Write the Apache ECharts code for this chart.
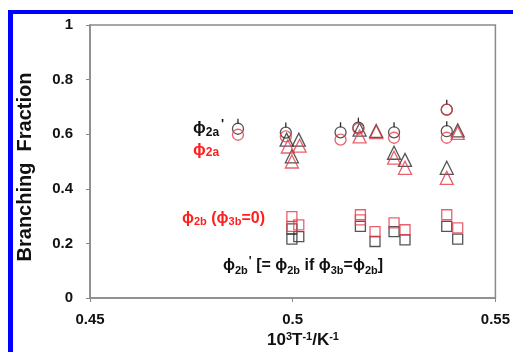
<!DOCTYPE html>
<html><head><meta charset="utf-8">
<script src="https://cdn.jsdelivr.net/npm/echarts@6/dist/echarts.min.js"></script>
<style>html,body{margin:0;padding:0;background:#fff}#c{width:513px;height:352px}</style>
</head><body><div id="c"></div>
<script>
// phi2a' (black circles) and phi2a (red circles)
const circBlack = [[0.4865,0.62],[0.4983,0.606],[0.5118,0.607],[0.5162,0.624],[0.5250,0.607],[0.5380,0.611],[0.5380,0.69]];
const circRed   = [[0.4865,0.598],[0.4983,0.592],[0.5118,0.58],[0.5162,0.62],[0.5250,0.587],[0.5380,0.587],[0.5380,0.69]];
// triangles
const triBlack = [[0.4985,0.58],[0.4998,0.519],[0.5015,0.58],[0.5165,0.617],[0.5206,0.612],[0.5250,0.532],[0.5277,0.506],[0.5380,0.477],[0.5407,0.614]];
const triRed   = [[0.4988,0.555],[0.4998,0.50],[0.5017,0.558],[0.5165,0.592],[0.5206,0.608],[0.5250,0.514],[0.5277,0.477],[0.5380,0.44],[0.5407,0.605]];
// phi2b (red squares) and phi2b' (black squares)
const sqRed   = [[0.4998,0.298],[0.4998,0.262],[0.5015,0.268],[0.5167,0.305],[0.5167,0.286],[0.5203,0.243],[0.5250,0.275],[0.5277,0.25],[0.5380,0.305],[0.5407,0.257]];
const sqBlack = [[0.4998,0.253],[0.4998,0.216],[0.5015,0.225],[0.5167,0.262],[0.5203,0.207],[0.5250,0.243],[0.5277,0.213],[0.5380,0.262],[0.5407,0.216]];
const xTicks = [0.45, 0.5, 0.55];
const yTicks = [0, 0.2, 0.4, 0.6, 0.8, 1];

const RED = '#e23a48', BLK = '#2a2a2a', TRED = '#ff1f1f';
const chart = echarts.init(document.getElementById('c'));
const font = '"Liberation Sans", Arial, sans-serif';
function sc(name, data, symbol, color, size, z) {
  return {type:'scatter', name, data, symbol, symbolSize:size, z:z||2,
    itemStyle:{color:'rgba(0,0,0,0)', borderColor:color, borderWidth:1.3}};
}
const sub = {fontSize:11, fontWeight:'bold', fontFamily:font, verticalAlign:'bottom', padding:[6,0,0,0]};
chart.setOption({
  animation:false,
  grid:{left:90, top:25, right:15, bottom:54, show:true, borderColor:'#8a8a8a', borderWidth:1.5},
  xAxis:{type:'value', min:xTicks[0], max:xTicks[2], interval:0.05,
    axisLine:{lineStyle:{color:'#8a8a8a', width:1.5}}, axisTick:{show:true, length:4, lineStyle:{color:'#8a8a8a'}},
    splitLine:{show:false},
    axisLabel:{color:'#111', fontSize:15, fontWeight:'bold', fontFamily:font, margin:14,
      formatter:v=>String(+v.toFixed(2))}},
  yAxis:{type:'value', min:yTicks[0], max:yTicks[5], interval:0.2,
    axisLine:{show:true, lineStyle:{color:'#8a8a8a', width:1.5}}, axisTick:{show:true, length:4, lineStyle:{color:'#8a8a8a'}},
    splitLine:{show:false},
    axisLabel:{color:'#111', fontSize:15, fontWeight:'bold', fontFamily:font, margin:17,
      formatter:v=>String(+v.toFixed(1))}},
  series:[
    {type:'custom', data:circBlack, z:1, renderItem:(p,api)=>{
      const c = api.coord([api.value(0), api.value(1)]);
      return {type:'line', shape:{x1:c[0], y1:c[1]-5, x2:c[0], y2:c[1]-10}, style:{stroke:BLK, lineWidth:1.3}};
    }},
    sc('circBlack', circBlack, 'circle', BLK, 11, 2),
    sc('circRed', circRed, 'circle', RED, 11, 3),
    sc('triBlack', triBlack, 'triangle', BLK, 13, 2),
    sc('triRed', triRed, 'triangle', RED, 13, 3),
    sc('sqBlack', sqBlack, 'rect', BLK, 10, 2),
    sc('sqRed', sqRed, 'rect', RED, 10, 3)
  ],
  graphic:[
    {type:'rect', shape:{x:8, y:10, width:505, height:4}, style:{fill:'#0000ff'}},
    {type:'rect', shape:{x:8, y:10, width:5, height:342}, style:{fill:'#0000ff'}},
    {type:'text', x:25, y:167, rotation:Math.PI/2, style:{text:'Branching  Fraction', fill:'#111',
      font:'bold 20px '+font, align:'center', verticalAlign:'middle'}},
    {type:'text', x:303, y:340, style:{rich:{b:{fontSize:17, fontWeight:'bold', fontFamily:font, fill:'#111'},
        s:{fontSize:11, fontWeight:'bold', fontFamily:font, fill:'#111', verticalAlign:'top', padding:[0,0,7,0]}},
      text:'{b|10}{s|3}{b|T}{s|-1}{b|/K}{s|-1}', align:'center', verticalAlign:'middle'}},
    {type:'text', x:193, y:128, style:{rich:{p:{fontSize:17, fontWeight:'bold', fontFamily:font, fill:'#111'},
        s:Object.assign({}, sub, {fill:'#111', fontSize:12}), q:{fontSize:13, fontWeight:'bold', fontFamily:font, fill:'#111', padding:[0,0,8,2]}},
      text:'{p|ϕ}{s|2a}{q|\'}', verticalAlign:'middle'}},
    {type:'text', x:193, y:150, style:{rich:{p:{fontSize:17, fontWeight:'bold', fontFamily:font, fill:TRED},
        s:Object.assign({}, sub, {fill:TRED, fontSize:12})},
      text:'{p|ϕ}{s|2a}', verticalAlign:'middle'}},
    {type:'text', x:182, y:219, style:{rich:{p:{fontSize:16, fontWeight:'bold', fontFamily:font, fill:TRED},
        s:Object.assign({}, sub, {fill:TRED})},
      text:'{p|ϕ}{s|2b}{p| (ϕ}{s|3b}{p|=0)}', verticalAlign:'middle'}},
    {type:'text', x:223, y:266, style:{rich:{p:{fontSize:16, fontWeight:'bold', fontFamily:font, fill:'#111'},
        s:Object.assign({}, sub, {fill:'#111', fontSize:11}), q:{fontSize:12, fontWeight:'bold', fontFamily:font, fill:'#111', padding:[0,0,8,1]}},
      text:'{p|ϕ}{s|2b}{q|\'}{p| [= ϕ}{s|2b}{p| if ϕ}{s|3b}{p|=ϕ}{s|2b}{p|]}', verticalAlign:'middle'}}
  ]
});
</script></body></html>
